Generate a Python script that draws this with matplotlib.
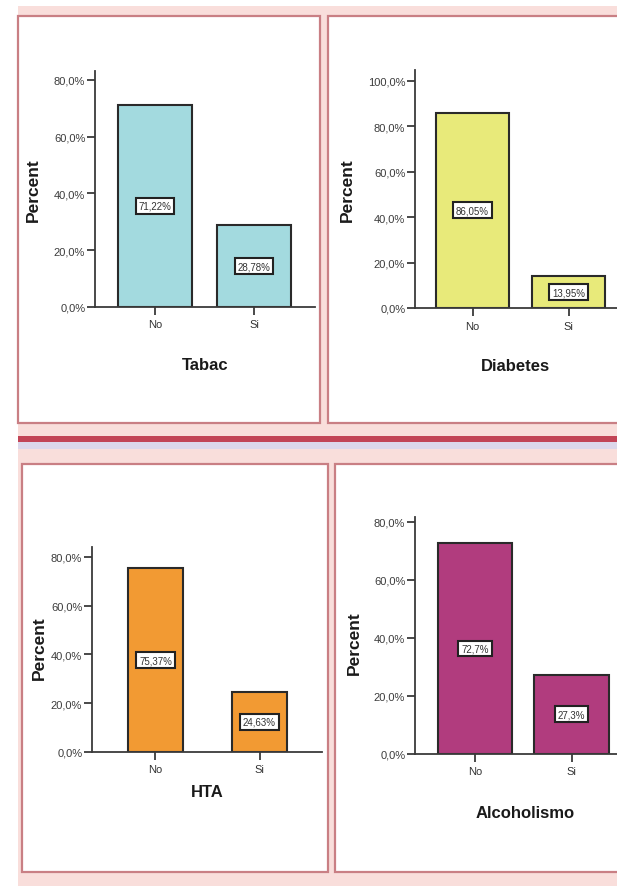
import matplotlib.pyplot as plt
from matplotlib.patches import Rectangle

plt.rcParams['font.family'] = ['Liberation Sans', 'DejaVu Sans']

# porcentajes de cada factor de riesgo
categorias = ['No', 'Si']
tabac = [71.22, 28.78]
diabetes = [86.05, 13.95]
hta = [75.37, 24.63]
alcoholismo = [72.7, 27.3]

W, H = 617, 887
fig = plt.figure(figsize=(W / 100, H / 100), dpi=100)
fig.patch.set_facecolor('white')


def px_rect(x0, y0, x1, y1, **kw):
    # rectangulo en pixeles (origen arriba a la izquierda)
    r = Rectangle((x0 / W, 1 - y1 / H), (x1 - x0) / W, (y1 - y0) / H,
                  transform=fig.transFigure, **kw)
    fig.add_artist(r)


# fondo rosado y marcos de los paneles
px_rect(18, 7, W, H, facecolor='#f9dedb', edgecolor='none', zorder=0)
px_rect(18, 437, W, 443, facecolor='#c24456', edgecolor='none', zorder=0)
px_rect(18, 443, W, 450, facecolor='#dcd7ea', edgecolor='none', zorder=0)
borde = '#c97f84'
px_rect(18, 17, 320, 424, facecolor='white', edgecolor=borde, lw=1.6, zorder=0)
px_rect(328, 17, W + 5, 424, facecolor='white', edgecolor=borde, lw=1.6, zorder=0)
px_rect(22, 465, 328, 873, facecolor='white', edgecolor=borde, lw=1.6, zorder=0)
px_rect(335, 465, W + 5, 873, facecolor='white', edgecolor=borde, lw=1.6, zorder=0)


def grafico(caja, valores, color, titulo, ymax, yticks, xlim, ancho, xl, yl):
    x0, y0, x1, y1 = caja
    ax = fig.add_axes([x0 / W, 1 - y1 / H, (x1 - x0) / W, (y1 - y0) / H])
    ax.set_facecolor('none')
    pos = list(range(len(categorias)))
    barras = ax.bar(pos, valores, width=ancho, color=color,
                    edgecolor='#2a2a2a', linewidth=1.5, zorder=2)
    for b, v in zip(barras, valores):
        txt = ('%.2f%%' % v) if round(v, 1) != v else ('%.1f%%' % v)
        ax.text(b.get_x() + b.get_width() / 2, v / 2, txt.replace('.', ','),
                ha='center', va='center', fontsize=7, color='#333333', zorder=3,
                bbox=dict(boxstyle='square,pad=0.3', fc='white', ec='#222222', lw=1.5))
    ax.set_xlim(*xlim)
    ax.set_ylim(0, ymax)
    ax.set_yticks(yticks)
    ax.set_yticklabels([('%.1f%%' % t).replace('.', ',') for t in yticks])
    ax.set_xticks(pos)
    ax.set_xticklabels(categorias)
    for s in ['top', 'right']:
        ax.spines[s].set_visible(False)
    for s in ['left', 'bottom']:
        ax.spines[s].set_color('#3a3a3a')
        ax.spines[s].set_linewidth(1.3)
    ax.tick_params(axis='y', length=6, width=1.3, color='#3a3a3a',
                   labelsize=8, labelcolor='#3c3c3c', pad=1)
    ax.tick_params(axis='x', length=6, width=1.3, color='#3a3a3a',
                   labelsize=8, labelcolor='#333333', pad=3)
    ax.set_xlabel(titulo, fontsize=12, fontweight='bold', color='#1a1a1a')
    ax.set_ylabel('Percent', fontsize=12.5, fontweight='bold', color='#1a1a1a')
    ax.xaxis.set_label_coords(*xl)
    ax.yaxis.set_label_coords(*yl)
    return ax


grafico((95, 72, 315, 308), tabac, '#a3dadf', 'Tabac', 83.1,
        [0, 20, 40, 60, 80], (-0.606, 1.616), 0.75, (0.5, -0.21), (-0.245, 0.5))
grafico((415, 71, 617, 309), diabetes, '#e8ea7a', 'Diabetes', 104.8,
        [0, 20, 40, 60, 80, 100], (-0.6, 1.505), 0.76, (0.495, -0.21), (-0.30, 0.5))
grafico((92, 548, 322, 753), hta, '#f29a33', 'HTA', 84.1,
        [0, 20, 40, 60, 80], (-0.61, 1.6), 0.53, (0.5, -0.156), (-0.196, 0.51))
grafico((415, 518, 617, 755), alcoholismo, '#b13c7e', 'Alcoholismo', 81.7,
        [0, 20, 40, 60, 80], (-0.62, 1.47), 0.77, (0.545, -0.215), (-0.265, 0.47))

fig.savefig('out.png', dpi=100)
